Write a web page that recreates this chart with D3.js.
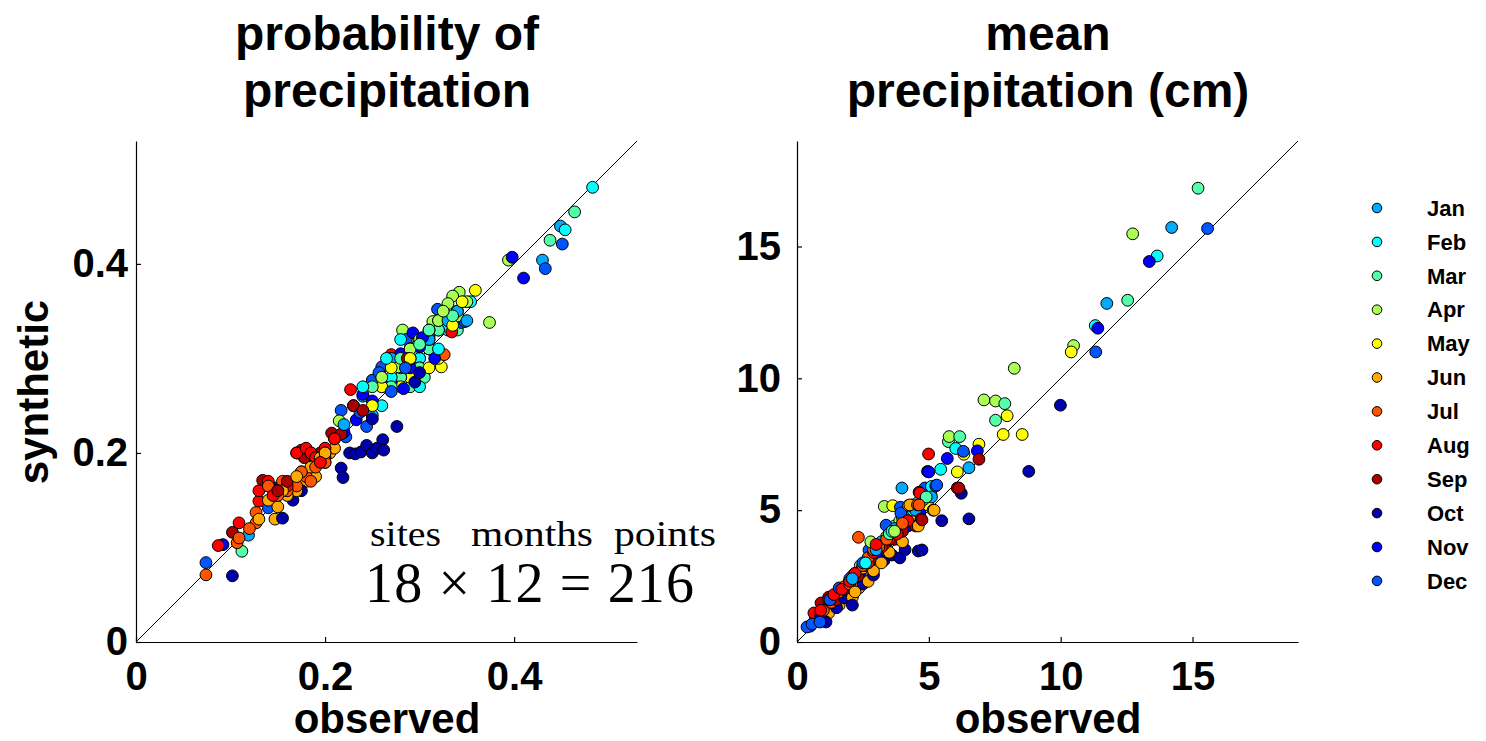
<!DOCTYPE html>
<html>
  <head>
    <meta charset="utf-8">
    <title>Observed vs synthetic precipitation</title>
    <style>
      body { margin: 0; background: #fff; }
      text { font-family: "Liberation Sans", Arial, sans-serif; }
      text.serif { font-family: "Liberation Serif", "DejaVu Serif", serif; }
    </style>
  </head>
  <body>
    <div id="container"></div>
    <script src="https://cdnjs.cloudflare.com/ajax/libs/d3/7.8.5/d3.min.js"></script>
    <script>

      // MONTHS (water-year order used for the jet colours) & COLOURS
      var months = ["Oct", "Nov", "Dec", "Jan", "Feb", "Mar", "Apr", "May", "Jun", "Jul", "Aug", "Sep"];
      var monthColors = ["#0000aa", "#0000ff", "#0055ff", "#00aaff", "#00ffff", "#55ffaa",
                         "#aaff55", "#ffff00", "#ffaa00", "#ff5500", "#ff0000", "#aa0000"];
      var legendOrder = ["Jan", "Feb", "Mar", "Apr", "May", "Jun", "Jul", "Aug", "Sep", "Oct", "Nov", "Dec"];

      // PROBABILITY OF PRECIPITATION: observed / synthetic, one row per month (18 sites)
      var popObserved = [
        [0.102,0.155,0.166,0.175,0.217,0.219,0.226,0.232,0.238,0.244,0.250,0.255,0.261,0.262,0.276,0.250,0.295,0.300],
        [0.092,0.147,0.187,0.220,0.233,0.240,0.250,0.260,0.270,0.280,0.290,0.293,0.300,0.303,0.316,0.283,0.398,0.410],
        [0.074,0.140,0.222,0.217,0.237,0.244,0.250,0.260,0.257,0.286,0.310,0.319,0.344,0.348,0.433,0.451,0.270,0.285],
        [0.119,0.449,0.430,0.230,0.240,0.260,0.280,0.300,0.320,0.270,0.250,0.290,0.310,0.330,0.200,0.340,0.220,0.350],
        [0.483,0.454,0.354,0.260,0.250,0.330,0.300,0.280,0.270,0.290,0.310,0.320,0.340,0.280,0.300,0.320,0.265,0.240],
        [0.112,0.464,0.438,0.330,0.340,0.290,0.280,0.300,0.310,0.320,0.270,0.290,0.305,0.280,0.250,0.335,0.310,0.300],
        [0.394,0.342,0.335,0.330,0.314,0.282,0.298,0.278,0.215,0.374,0.350,0.320,0.300,0.290,0.340,0.310,0.260,0.325],
        [0.359,0.321,0.323,0.300,0.310,0.290,0.280,0.330,0.340,0.320,0.270,0.300,0.260,0.310,0.335,0.290,0.250,0.345],
        [0.147,0.150,0.180,0.190,0.200,0.205,0.165,0.170,0.160,0.210,0.140,0.175,0.185,0.195,0.155,0.200,0.130,0.170],
        [0.074,0.107,0.109,0.127,0.127,0.148,0.155,0.170,0.180,0.185,0.160,0.140,0.326,0.200,0.120,0.150,0.175,0.190],
        [0.087,0.109,0.130,0.227,0.270,0.334,0.130,0.140,0.170,0.180,0.185,0.190,0.200,0.160,0.150,0.210,0.145,0.195],
        [0.102,0.134,0.140,0.170,0.175,0.178,0.185,0.190,0.195,0.200,0.207,0.217,0.210,0.287,0.230,0.160,0.150,0.240]
      ];
      var popSynthetic = [
        [0.070,0.131,0.150,0.160,0.184,0.174,0.200,0.199,0.201,0.208,0.200,0.205,0.214,0.203,0.228,0.236,0.275,0.285],
        [0.103,0.163,0.190,0.222,0.235,0.262,0.255,0.280,0.275,0.305,0.290,0.327,0.312,0.322,0.300,0.268,0.407,0.385],
        [0.084,0.142,0.217,0.245,0.243,0.228,0.277,0.291,0.285,0.320,0.323,0.352,0.338,0.339,0.395,0.421,0.265,0.290],
        [0.113,0.440,0.404,0.250,0.260,0.270,0.280,0.290,0.330,0.300,0.240,0.310,0.320,0.340,0.200,0.350,0.230,0.340],
        [0.481,0.436,0.360,0.250,0.276,0.330,0.300,0.290,0.280,0.310,0.320,0.340,0.350,0.320,0.270,0.310,0.300,0.270],
        [0.096,0.455,0.425,0.340,0.330,0.270,0.280,0.290,0.310,0.330,0.270,0.300,0.280,0.300,0.270,0.345,0.330,0.315],
        [0.404,0.370,0.366,0.358,0.339,0.330,0.314,0.291,0.234,0.338,0.360,0.340,0.320,0.310,0.345,0.330,0.280,0.350],
        [0.372,0.332,0.291,0.300,0.310,0.280,0.270,0.340,0.340,0.300,0.290,0.320,0.270,0.290,0.335,0.300,0.250,0.360],
        [0.130,0.143,0.170,0.175,0.190,0.200,0.165,0.160,0.155,0.205,0.150,0.180,0.185,0.195,0.160,0.200,0.130,0.175],
        [0.071,0.105,0.110,0.126,0.137,0.160,0.170,0.165,0.175,0.170,0.160,0.165,0.304,0.190,0.120,0.155,0.180,0.185],
        [0.102,0.126,0.149,0.267,0.304,0.328,0.160,0.170,0.200,0.205,0.200,0.195,0.205,0.165,0.160,0.215,0.155,0.190],
        [0.116,0.171,0.165,0.200,0.203,0.195,0.200,0.190,0.200,0.195,0.221,0.220,0.215,0.300,0.250,0.170,0.160,0.245]
      ];

      // MEAN PRECIPITATION (cm): observed / synthetic, one row per month
      var meanObserved = [
        [0.9,1.1,1.5,1.8,2.1,2.5,2.9,3.3,3.6,3.9,4.1,4.6,4.74,5.49,6.23,6.52,8.79,9.99],
        [0.5,0.9,1.3,1.7,2.0,2.4,2.7,3.0,3.5,3.9,4.2,4.66,4.95,5.0,5.7,6.84,11.41,13.36],
        [0.38,0.57,0.87,1.25,1.6,2.0,2.73,3.34,3.38,3.92,3.94,4.85,5.26,5.3,6.31,2.5,11.33,15.57],
        [1.0,1.5,1.9,2.3,2.6,2.9,3.2,3.5,3.7,3.98,4.2,4.5,5.1,6.52,11.75,14.21,2.1,3.0],
        [1.2,1.6,2.0,2.4,2.8,3.1,3.4,3.8,4.1,4.4,4.8,5.1,5.45,6.02,11.31,13.66,2.6,3.6],
        [1.5,2.0,2.4,2.8,3.1,3.4,3.7,4.0,4.3,4.6,5.74,6.17,7.53,7.88,12.54,15.21,3.5,4.9],
        [1.6,2.1,2.6,3.0,3.31,3.5,3.9,4.13,4.4,5.0,5.77,7.09,7.53,8.24,10.49,12.73,2.8,3.7],
        [1.7,2.2,2.7,3.0,3.4,3.63,4.0,4.4,4.95,5.0,5.08,6.08,6.33,6.9,7.82,7.97,8.54,10.4],
        [1.2,1.6,1.9,2.1,2.35,2.7,2.5,2.9,3.2,3.5,3.7,4.0,4.23,4.28,4.6,5.16,5.2,2.2],
        [0.7,1.0,1.3,1.6,1.8,2.0,2.2,2.33,2.5,2.7,2.9,3.1,3.4,3.7,4.0,3.6,4.57,4.63],
        [0.64,0.9,1.2,1.4,1.7,2.0,2.2,2.5,2.7,2.9,3.2,3.5,3.8,4.2,4.63,4.99,4.66,3.0],
        [0.91,1.2,1.5,1.8,2.0,2.3,2.6,2.8,3.0,3.3,3.7,4.0,4.5,4.7,4.74,6.08,6.14,6.9]
      ];
      var meanSynthetic = [
        [0.8,0.76,1.3,1.67,1.4,2.2,2.54,3.1,3.3,3.19,3.5,3.45,3.49,4.6,5.64,4.67,6.47,8.98],
        [0.6,1.0,1.5,1.9,2.3,2.6,3.2,3.3,3.9,4.2,4.4,4.89,6.47,6.45,6.96,7.25,11.9,14.43],
        [0.57,0.68,0.76,1.6,2.05,2.4,3.49,3.6,4.43,5.11,4.89,5.84,5.92,5.95,7.23,3.0,11.0,15.68],
        [1.1,1.6,2.1,2.6,2.9,3.3,3.8,4.1,4.3,5.84,4.6,5.0,5.5,6.61,12.84,15.72,2.4,3.5],
        [1.3,1.8,2.2,2.7,3.1,3.5,3.8,4.3,4.7,5.0,5.4,5.9,6.55,7.34,12.0,14.64,3.0,4.2],
        [1.7,2.3,2.9,3.3,3.6,4.0,4.4,4.7,5.1,5.3,7.6,7.79,8.41,9.04,12.96,17.21,4.1,5.5],
        [1.9,2.5,3.0,3.5,5.14,4.3,4.6,4.8,5.2,5.6,7.79,9.18,9.14,10.38,11.24,15.48,3.8,4.2],
        [1.9,2.4,2.9,3.5,3.8,5.17,4.4,4.8,5.2,5.65,5.61,6.45,7.12,7.5,7.87,8.58,7.87,11.0],
        [1.1,1.4,1.8,1.7,2.05,2.3,2.8,2.7,3.0,3.4,3.9,3.8,5.18,5.2,4.4,5.0,5.0,1.9],
        [0.9,1.2,1.5,1.9,2.1,2.2,2.6,3.97,2.9,3.2,3.5,3.6,3.9,4.2,4.5,4.2,5.2,5.2],
        [1.1,1.2,1.6,1.8,2.0,2.3,2.6,2.9,3.0,3.4,3.6,3.9,4.1,4.6,5.68,7.13,5.65,3.7],
        [1.48,1.7,1.6,2.0,2.3,2.5,2.9,3.1,3.6,3.7,3.9,4.2,4.4,4.67,4.63,5.84,5.84,6.93]
      ];

      // TICKS
      var popTicks = [0, 0.2, 0.4];
      var meanTicks = [0, 5, 10, 15];

      // SVG
      var svg = d3.select("#container")
        .append("svg")
        .attr("width", 1486)
        .attr("height", 741);

      // ONE PANEL = scatter of observed vs synthetic with a 1:1 line
      function panel(opts) {
        var x = d3.scaleLinear().domain([0, opts.max]).range([opts.left, opts.left + 501]);
        var y = d3.scaleLinear().domain([0, opts.max]).range([642, 141]);

        // diagonal 1:1 line
        svg.append("line")
          .attr("x1", x(0)).attr("y1", y(0))
          .attr("x2", x(opts.max)).attr("y2", y(opts.max))
          .attr("stroke", "#000").attr("stroke-width", 1);

        // points, drawn site by site so months interleave
        var pts = [];
        for (var s = 0; s < 18; s++) {
          for (var m = 0; m < 12; m++) {
            pts.push({ m: m, o: opts.obs[m][s], v: opts.syn[m][s] });
          }
        }
        svg.append("g").selectAll("circle")
          .data(pts)
          .enter()
          .append("circle")
          .attr("cx", d => x(d.o))
          .attr("cy", d => y(d.v))
          .attr("r", 5.9)
          .attr("fill", d => monthColors[d.m])
          .attr("stroke", "#000")
          .attr("stroke-width", 1);

        // axes with inward ticks
        var xAxis = svg.append("g")
          .attr("transform", "translate(0,642)")
          .call(d3.axisBottom(x).tickValues(opts.ticks).tickFormat(d => String(d))
            .tickSizeInner(-5).tickSizeOuter(0).tickPadding(20));
        var yAxis = svg.append("g")
          .attr("transform", "translate(" + opts.left + ",0)")
          .call(d3.axisLeft(y).tickValues(opts.ticks).tickFormat(d => String(d))
            .tickSizeInner(-5).tickSizeOuter(0).tickPadding(opts.yPad));
        [xAxis, yAxis].forEach(function (a) {
          a.selectAll("text")
            .attr("font-family", "Liberation Sans, Arial, sans-serif")
            .attr("font-size", 40)
            .attr("font-weight", "bold")
            .attr("fill", "#000");
          a.selectAll("path, line").attr("stroke", "#000").attr("stroke-width", 1.2);
        });

        // title (two lines) and x label
        var cx = opts.left + 251;
        opts.title.forEach(function (t, i) {
          svg.append("text")
            .attr("x", cx).attr("y", 50 + i * 57)
            .attr("text-anchor", "middle")
            .attr("font-size", 48)
            .attr("font-weight", "bold")
            .text(t);
        });
        svg.append("text")
          .attr("x", cx).attr("y", 733)
          .attr("text-anchor", "middle")
          .attr("font-size", 42)
          .attr("font-weight", "bold")
          .text("observed");
      }

      panel({ left: 136, max: 0.53, obs: popObserved, syn: popSynthetic, ticks: popTicks,
              yPad: 8, title: ["probability of", "precipitation"] });
      panel({ left: 797, max: 19, obs: meanObserved, syn: meanSynthetic, ticks: meanTicks,
              yPad: 16, title: ["mean", "precipitation (cm)"] });

      // Y LABEL
      svg.append("text")
        .attr("transform", "translate(48,392)rotate(-90)")
        .attr("text-anchor", "middle")
        .attr("font-size", 42)
        .attr("font-weight", "bold")
        .text("synthetic");

      // ANNOTATION (serif, like the LaTeX text in the original)
      [["sites", 370, 71], ["months", 471, 122], ["points", 614, 102]].forEach(function (w) {
        svg.append("text")
          .attr("class", "serif")
          .attr("x", w[1]).attr("y", 546)
          .attr("font-size", 35)
          .attr("textLength", w[2])
          .attr("lengthAdjust", "spacingAndGlyphs")
          .text(w[0]);
      });
      svg.append("text")
        .attr("class", "serif")
        .attr("x", 365).attr("y", 602)
        .attr("font-size", 56)
        .attr("textLength", 329)
        .attr("lengthAdjust", "spacing")
        .text("18 \u00d7 12 = 216");

      // LEGEND
      var legend = svg.append("g").selectAll("g")
        .data(legendOrder)
        .enter()
        .append("g")
        .attr("transform", (d, i) => "translate(0," + (208 + i * 33.9) + ")");
      legend.append("circle")
        .attr("cx", 1377).attr("cy", 0).attr("r", 4.8)
        .attr("fill", d => monthColors[months.indexOf(d)])
        .attr("stroke", "#000").attr("stroke-width", 1);
      legend.append("text")
        .attr("x", 1427).attr("y", 0).attr("dy", "0.35em")
        .attr("font-size", 22)
        .attr("font-weight", "bold")
        .text(d => d);

    </script>
  </body>
</html>
